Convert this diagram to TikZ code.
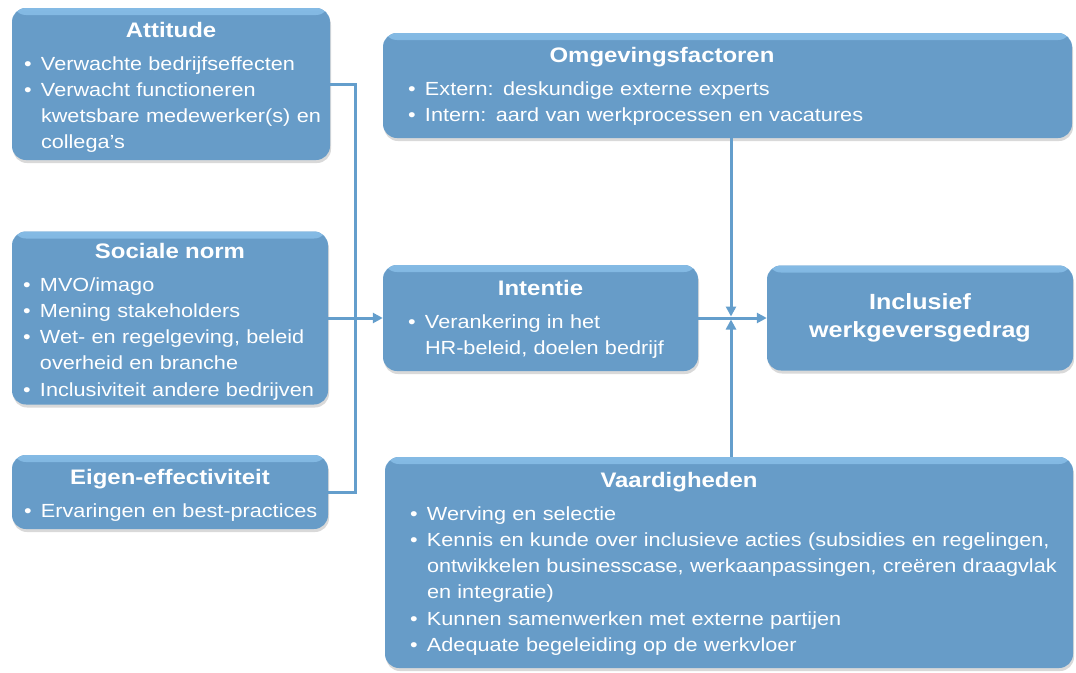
\documentclass[tikz,border=0pt]{standalone}
\usepackage{fontspec}
\setmainfont{Liberation Sans}[FakeStretch=1.14]
\usepackage{xcolor}
\usepackage{tikz}
\usetikzlibrary{arrows.meta,shadows}

\definecolor{boxblue}{RGB}{103,156,200}
\definecolor{boxlight}{RGB}{132,186,228}
\definecolor{lineblue}{RGB}{100,158,204}

\hfuzz=40pt
\hbadness=10000

% title line of a box, optional shift of the centre
\newcommand{\kop}[2][0pt]{{\noindent\fontsize{21}{26}\selectfont\bfseries\centering\hspace*{#1}#2\par}\vspace{7pt}}
% bullet item, lines broken by hand with \\
\newcommand{\itm}[1]{\noindent\makebox[17pt][l]{\textbullet}\begin{tabular}[t]{@{}l@{}}#1\end{tabular}\par}
% pull the block of text a little lower in its box
\newcommand{\zak}[1]{\par\vspace{-#1}}

\begin{document}
\begin{tikzpicture}[x=1pt,y=-1pt,
    blok/.style={rectangle, rounded corners=14pt, fill=boxblue, text=white,
        drop shadow={shadow xshift=1pt, shadow yshift=-3pt, opacity=0.3},
        path picture={\shade[top color=boxlight, bottom color=boxblue]
            (path picture bounding box.north west) rectangle
            ([yshift=-7pt]path picture bounding box.north east);},
        inner ysep=6pt, align=left, font=\fontsize{19}{26}\selectfont},
    lijn/.style={lineblue, line width=3pt},
    pijl/.style={lijn, -{Triangle[length=10pt,width=10pt]}}]
    \useasboundingbox (0,0) rectangle (1076,672);

    % Left column
    \node[blok, minimum width=318pt, minimum height=152pt, text width=294pt, inner xsep=12pt] (att) at (171,84) {%
        \kop{Attitude}
        \itm{Verwachte bedrijfseffecten}
        \itm{Verwacht functioneren\\ kwetsbare medewerker(s) en\\ collega’s}\zak{10pt}};
    \node[blok, minimum width=316pt, minimum height=173pt, text width=294pt, inner xsep=11pt] (soc) at (170,318) {%
        \kop{Sociale norm}
        \itm{MVO/imago}
        \itm{Mening stakeholders}
        \itm{Wet- en regelgeving, beleid\\ overheid en branche}
        \itm{Inclusiviteit andere bedrijven}\zak{12pt}};
    \node[blok, minimum width=316pt, minimum height=74pt, text width=292pt, inner xsep=12pt] (eig) at (170,492) {%
        \kop{Eigen-effectiviteit}
        \itm{Ervaringen en best-practices}\zak{10pt}};

    % Middle and right
    \node[blok, minimum width=689pt, minimum height=105pt, text width=639pt, inner xsep=25pt] (omg) at (727.5,85.5) {%
        \kop[-131pt]{Omgevingsfactoren}
        \itm{Extern: deskundige externe experts}
        \itm{Intern: aard van werkprocessen en vacatures}\zak{6pt}};
    \node[blok, minimum width=315pt, minimum height=106pt, text width=265pt, inner xsep=25pt] (int) at (540.5,318) {%
        \kop{Intentie}
        \itm{Verankering in het\\ HR-beleid, doelen bedrijf}\zak{6pt}};
    \node[blok, minimum width=306pt, minimum height=105pt, align=center,
        font=\fontsize{22}{28}\selectfont\bfseries] (inc) at (920,318) {Inclusief\\werkgeversgedrag};
    \node[blok, minimum width=688pt, minimum height=211pt, text width=638pt, inner xsep=25pt] (vaa) at (729,562.5) {%
        \kop[-100pt]{Vaardigheden}
        \itm{Werving en selectie}
        \itm{Kennis en kunde over inclusieve acties (subsidies en regelingen,\\ ontwikkelen businesscase, werkaanpassingen, creëren draagvlak\\ en integratie)}
        \itm{Kunnen samenwerken met externe partijen}
        \itm{Adequate begeleiding op de werkvloer}\zak{6pt}};

    % Connectors
    \coordinate (lk) at (355,318);
    \coordinate (rk) at (731,318);
    \draw[lijn] (att.east) -| (lk);
    \draw[lijn] (eig.east) -| (lk);
    \draw[pijl] (soc.east) -- (int.west);
    \draw[pijl] (int.east) -- (inc.west);
    \draw[pijl, shorten >=1.5pt] (omg.south -| rk) -- (rk);
    \draw[pijl, shorten >=1.5pt] (vaa.north -| rk) -- (rk);
\end{tikzpicture}
\end{document}
